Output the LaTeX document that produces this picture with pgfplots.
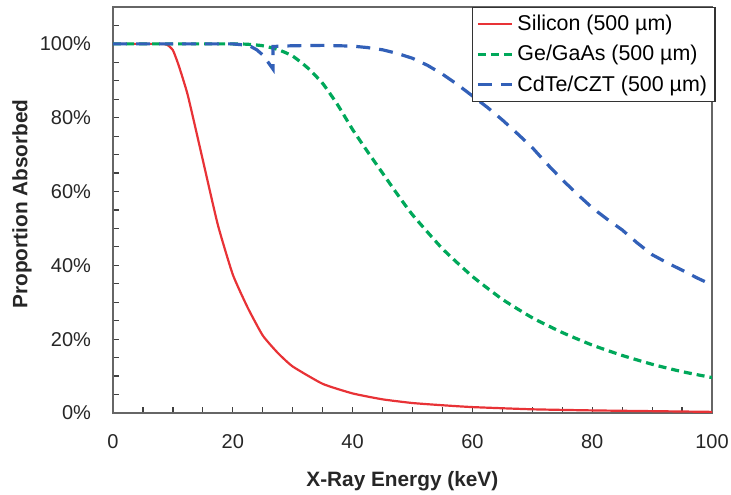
\documentclass[border=0pt]{standalone}
\usepackage{pgfplots}
\pgfplotsset{compat=1.18}
\usepackage{fontspec}
\setmainfont{Liberation Sans}
\definecolor{sired}{RGB}{232,50,54}
\definecolor{gegreen}{RGB}{0,168,90}
\definecolor{cdblue}{RGB}{50,96,184}
\begin{document}
\begin{tikzpicture}
\begin{axis}[
  scale only axis, width=299.5pt, height=203pt,
  xmin=0, xmax=100, ymin=0, ymax=110,
  xtick={0,20,40,60,80,100}, xticklabels={0,20,40,60,80,100},
  minor xtick={5,10,15,25,30,35,45,50,55,65,70,75,85,90,95},
  ytick={0,20,40,60,80,100}, yticklabels={0\%,20\%,40\%,60\%,80\%,100\%},
  minor ytick={5,10,15,25,30,35,45,50,55,65,70,75,85,90,95,105},
  tick align=inside, xtick pos=bottom, ytick pos=left,
  major tick length=3pt, minor tick length=3pt,
  every tick/.style={black!75, line width=0.6pt},
  axis line style={black!60, line width=0.6pt},
  font=\fontsize{10}{12}\selectfont,
  tick label style={black!85},
  xticklabel style={yshift=-7pt},
  yticklabel style={xshift=-7.5pt},
  xlabel={\bfseries X-Ray Energy (keV)},
  ylabel={\bfseries Proportion Absorbed},
  label style={font=\fontsize{10.4}{12}\selectfont},
  xlabel style={at={(axis description cs:0.483,-0.167)}, anchor=center, black!85},
  ylabel style={at={(axis description cs:-0.152,0.515)}, anchor=center, black!85},
  legend style={at={(rel axis cs:1.006,1.0)}, anchor=north east, draw=black!80, line width=0.6pt,
    font=\fontsize{10.7}{13}\selectfont, inner xsep=2pt, inner ysep=1.5pt,
    row sep=2pt, fill=white},
  legend cell align=left,
  legend image code/.code={\draw[#1] (0pt,0pt) -- (17pt,0pt);},
]
\coordinate (SW) at (rel axis cs:0,0);
\coordinate (NE) at (rel axis cs:1,1);
\addplot[sired, line width=1.1pt, smooth, tension=0.3] coordinates {
(0,100) (5,100) (8,100) (9,99.8) (10,98.3) (11,94) (12.5,86) (15,68.5) (17.5,51) (20,37.5)
(22.5,28.5) (25,21) (27.5,16.3) (30,12.6) (35,7.9) (40,5.3) (45,3.7) (50,2.7) (55,2.1)
(60,1.6) (70,1.0) (80,0.7) (90,0.5) (100,0.3)};
\addlegendentry{Silicon (500 µm)}
\addplot[gegreen, line width=1.6pt, dash pattern=on 4pt off 2.5pt, smooth, tension=0.3] coordinates {
(0,100) (10,100) (20,100) (22.5,99.9) (25,99.5) (27.5,98.5) (30,96.7) (32.5,93.5) (35,89.3)
(37.5,83.5) (40,76.8) (42.5,70.8) (45,65) (47.5,59.2) (50,53.7) (55,44.5) (60,37) (65,30.8)
(70,25.8) (75,21.8) (80,18.4) (85,15.6) (90,13.2) (95,11.2) (100,9.6)};
\addlegendentry{Ge/GaAs (500 µm)}
\addplot[cdblue, line width=1.6pt, dash pattern=on 7pt off 4.5pt] coordinates {
(0,100) (10,100) (20,100) (22,99.7) (23,99.3) (24,98.4) (25,97) (26,94.8) (26.7,93.2)
(26.7,99.3) (30,99.5) (35,99.6) (40,99.4) (42.5,99.0) (45,98.4) (47.5,97.4) (50,96.1)
(52.5,94.2) (55,91.8) (57.5,89.0) (60,85.9) (62.5,82.8) (65,79.4) (67.5,75.7) (70,71.9)
(72.5,67.4) (75,63.2) (77.5,59.3) (80,55.6) (82.5,52.5) (85,49.6) (87.5,46.1) (90,42.9)
(92.5,40.7) (95,38.7) (97.5,36.6) (100,34.7)};
\addlegendentry{CdTe/CZT (500 µm)}
\end{axis}
\pgfresetboundingbox
\path[use as bounding box] ([xshift=-56.5pt,yshift=-41pt]SW) rectangle ([xshift=9.5pt,yshift=3.5pt]NE);
\end{tikzpicture}
\end{document}
